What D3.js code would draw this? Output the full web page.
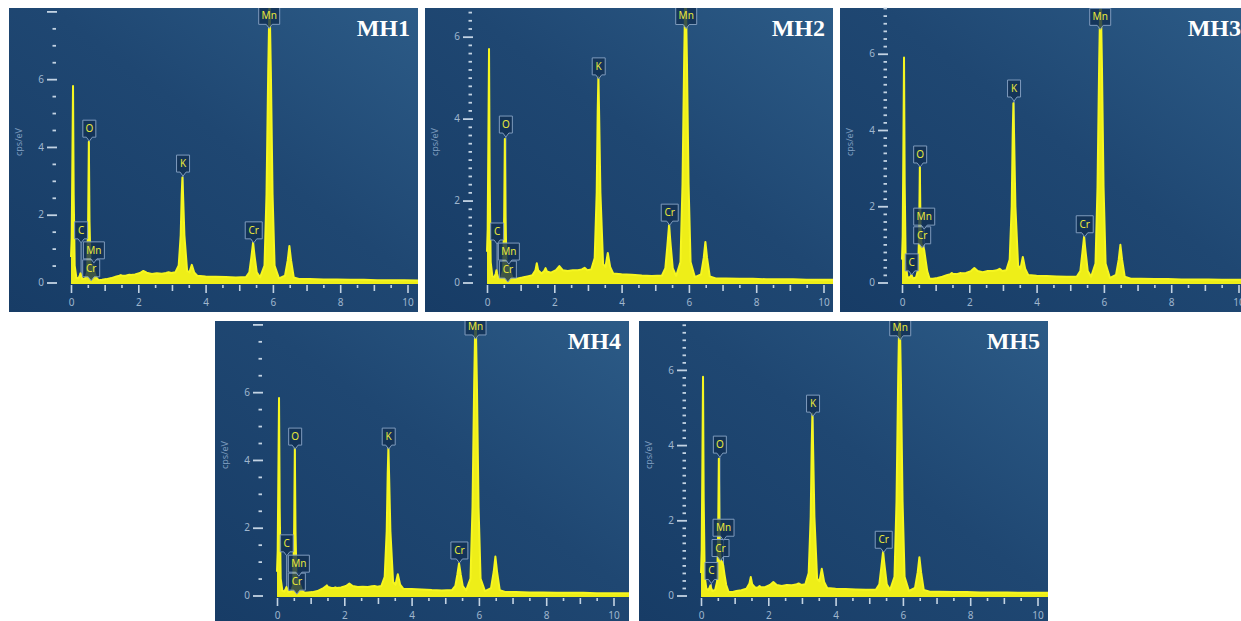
<!DOCTYPE html>
<html>
<head>
<meta charset="utf-8">
<script src="https://cdn.jsdelivr.net/npm/d3@7/dist/d3.min.js"></script>
<style>
  body { margin: 0; background: #ffffff; }
  svg { display: block; }
</style>
</head>
<body>
<script>
// energy grid (keV) shared by all five spectra
var energy = [
  0.00, 0.02, 0.04, 0.06, 0.08, 0.11, 0.16, 0.22, 0.26, 0.28,
  0.30, 0.34, 0.42, 0.48, 0.51, 0.53, 0.55, 0.58, 0.62, 0.66,
  0.70, 0.75, 0.82, 0.92, 1.05, 1.20, 1.35, 1.44, 1.48, 1.52,
  1.62, 1.70, 1.74, 1.78, 1.90, 2.05, 2.15, 2.25, 2.40, 2.55,
  2.70, 2.82, 2.90, 2.98, 3.10, 3.20, 3.26, 3.29, 3.31, 3.33,
  3.37, 3.45, 3.52, 3.59, 3.66, 3.75, 4.00, 4.30, 4.60, 4.90,
  5.20, 5.30, 5.36, 5.41, 5.46, 5.52, 5.62, 5.75, 5.81, 5.86,
  5.90, 5.94, 5.99, 6.05, 6.18, 6.36, 6.44, 6.49, 6.54, 6.62,
  6.80, 7.10, 7.50, 7.90, 8.30, 8.70, 9.10, 9.50, 9.90, 10.30,
  10.60
];

// cps/eV
var mh1 = [
  0.75, 1.3, 3.5, 5.8, 2.6, 0.5, 0.14, 0.12, 0.2, 0.27,
  0.2, 0.1, 0.12, 0.3, 1.9, 4.15, 1.8, 0.55, 0.5, 0.45,
  0.3, 0.15, 0.07, 0.08, 0.1, 0.13, 0.18, 0.2, 0.22, 0.2,
  0.2, 0.22, 0.23, 0.22, 0.24, 0.28, 0.34, 0.29, 0.25, 0.27,
  0.26, 0.28, 0.3, 0.28, 0.3, 0.5, 1.4, 2.6, 3.1, 2.6,
  1.4, 0.35, 0.3, 0.52, 0.3, 0.2, 0.18, 0.17, 0.16, 0.15,
  0.16, 0.3, 0.75, 1.17, 0.75, 0.3, 0.15, 0.5, 2.6, 6.2,
  8.4, 6.2, 2.6, 0.5, 0.12, 0.2, 0.65, 1.08, 0.65, 0.15,
  0.1, 0.1, 0.09, 0.09, 0.08, 0.08, 0.07, 0.07, 0.07, 0.06,
  0.06
];
var mh2 = [
  0.75, 1.3, 3.4, 5.7, 2.5, 0.5, 0.15, 0.13, 0.22, 0.3,
  0.22, 0.1, 0.12, 0.3, 1.6, 3.5, 1.6, 0.45, 0.42, 0.38,
  0.25, 0.13, 0.08, 0.1, 0.12, 0.15, 0.18, 0.3, 0.47, 0.3,
  0.22, 0.28, 0.35, 0.27, 0.24, 0.3, 0.4, 0.3, 0.28, 0.3,
  0.3, 0.32, 0.36, 0.3, 0.32, 0.6, 2.2, 4.2, 5.02, 4.2,
  2.2, 0.45, 0.38, 0.72, 0.38, 0.22, 0.2, 0.19, 0.17, 0.16,
  0.17, 0.35, 0.9, 1.4, 0.9, 0.35, 0.16, 0.5, 2.4, 5.5,
  7.4, 5.5, 2.4, 0.5, 0.13, 0.2, 0.6, 0.99, 0.6, 0.15,
  0.1, 0.1, 0.09, 0.09, 0.08, 0.08, 0.08, 0.07, 0.07, 0.07,
  0.07
];
var mh3 = [
  0.6, 1.2, 3.5, 5.9, 2.6, 0.5, 0.15, 0.12, 0.17, 0.2,
  0.16, 0.1, 0.14, 0.35, 1.4, 3.03, 1.5, 1.0, 0.95, 0.85,
  0.6, 0.3, 0.1, 0.1, 0.12, 0.15, 0.2, 0.22, 0.25, 0.22,
  0.22, 0.24, 0.25, 0.24, 0.25, 0.3, 0.38, 0.3, 0.27, 0.3,
  0.3, 0.32, 0.36, 0.3, 0.32, 0.6, 2.0, 3.9, 4.7, 3.9,
  2.0, 0.45, 0.36, 0.67, 0.36, 0.2, 0.18, 0.17, 0.16, 0.15,
  0.16, 0.3, 0.78, 1.2, 0.78, 0.3, 0.15, 0.5, 2.5, 5.8,
  7.8, 5.8, 2.5, 0.5, 0.12, 0.2, 0.6, 0.99, 0.6, 0.15,
  0.1, 0.1, 0.09, 0.09, 0.08, 0.08, 0.08, 0.07, 0.07, 0.07,
  0.07
];
var mh4 = [
  0.7, 1.3, 3.5, 5.83, 2.6, 0.5, 0.14, 0.12, 0.2, 0.25,
  0.2, 0.1, 0.12, 0.3, 2.0, 4.35, 1.9, 0.5, 0.45, 0.4,
  0.28, 0.14, 0.08, 0.09, 0.1, 0.13, 0.2, 0.26, 0.3, 0.25,
  0.22, 0.23, 0.24, 0.22, 0.24, 0.28, 0.35, 0.28, 0.25, 0.26,
  0.25, 0.27, 0.28, 0.26, 0.28, 0.55, 1.9, 3.6, 4.35, 3.6,
  1.9, 0.4, 0.32, 0.63, 0.32, 0.2, 0.19, 0.18, 0.16, 0.15,
  0.16, 0.28, 0.62, 0.95, 0.62, 0.28, 0.15, 0.5, 2.6, 6.3,
  8.5, 6.3, 2.6, 0.5, 0.13, 0.22, 0.7, 1.15, 0.7, 0.16,
  0.1, 0.1, 0.09, 0.09, 0.08, 0.08, 0.08, 0.07, 0.07, 0.07,
  0.07
];
var mh5 = [
  0.6, 1.2, 3.4, 5.82, 2.6, 0.5, 0.18, 0.15, 0.22, 0.27,
  0.2, 0.12, 0.15, 0.38, 1.7, 3.64, 1.6, 0.95, 0.9, 0.8,
  0.55, 0.28, 0.1, 0.09, 0.12, 0.14, 0.18, 0.32, 0.49, 0.3,
  0.2, 0.22, 0.25, 0.22, 0.22, 0.28, 0.36, 0.28, 0.25, 0.28,
  0.27, 0.29, 0.32, 0.28, 0.3, 0.6, 2.1, 4.0, 4.84, 4.0,
  2.1, 0.45, 0.38, 0.71, 0.36, 0.2, 0.18, 0.17, 0.16, 0.15,
  0.16, 0.3, 0.76, 1.16, 0.76, 0.3, 0.15, 0.5, 2.5, 5.8,
  7.8, 5.8, 2.5, 0.5, 0.12, 0.2, 0.62, 1.02, 0.62, 0.15,
  0.1, 0.1, 0.09, 0.09, 0.08, 0.08, 0.08, 0.07, 0.07, 0.07,
  0.07
];

var samples = ["MH1", "MH2", "MH3", "MH4", "MH5"];
var spectra = [mh1, mh2, mh3, mh4, mh5];

// y axis top (cps/eV) and minor tick step of each panel
var yMax = [8.1, 6.7, 7.2, 8.1, 7.3];
var yStep = [0.5, 0.2, 0.2, 0.5, 0.2];

// peak labels: element, keV, cps/eV where the marker points
var peaks1 = [["C", 0.30, 1.17], ["Cr", 0.60, 0.05], ["Mn", 0.68, 0.58], ["O", 0.545, 4.17],
              ["K", 3.33, 3.14], ["Cr", 5.43, 1.17], ["Mn", 5.89, 7.5]];
var peaks2 = [["C", 0.30, 0.94], ["Cr", 0.62, 0.01], ["Mn", 0.65, 0.45], ["O", 0.56, 3.55],
              ["K", 3.32, 4.97], ["Cr", 5.43, 1.4], ["Mn", 5.92, 6.2]];
var peaks3 = [["C", 0.29, 0.2], ["Cr", 0.60, 0.91], ["Mn", 0.66, 1.4], ["O", 0.54, 3.03],
              ["K", 3.33, 4.76], ["Cr", 5.43, 1.2], ["Mn", 5.89, 6.64]];
var peaks4 = [["C", 0.29, 1.17], ["Cr", 0.59, 0.04], ["Mn", 0.65, 0.57], ["O", 0.54, 4.32],
              ["K", 3.32, 4.32], ["Cr", 5.42, 0.96], ["Mn", 5.90, 7.57]];
var peaks5 = [["C", 0.31, 0.32], ["Cr", 0.58, 0.93], ["Mn", 0.67, 1.47], ["O", 0.56, 3.68],
              ["K", 3.33, 4.77], ["Cr", 5.43, 1.15], ["Mn", 5.92, 6.8]];
var peakSets = [peaks1, peaks2, peaks3, peaks4, peaks5];

var xTicks = d3.range(0, 10.01, 0.5);

// panel frames on the page: left, top, width, height
var frames = [[9, 8, 409, 304], [425, 8, 408, 304], [840, 8, 409, 304],
              [215, 321, 414, 300], [639, 321, 409, 300]];

var svg = d3.select("body").append("svg")
    .attr("width", 1241)
    .attr("height", 621);

var defs = svg.append("defs");
var bg = defs.append("linearGradient")
    .attr("id", "panelBg")
    .attr("x1", 0).attr("y1", 1).attr("x2", 1).attr("y2", 0);
bg.append("stop").attr("offset", "0%").attr("stop-color", "#173c66");
bg.append("stop").attr("offset", "55%").attr("stop-color", "#1f4772");
bg.append("stop").attr("offset", "100%").attr("stop-color", "#2c5b87");

var tickColor = "#c3d3e3";
var labelColor = "#9fb6ce";
var specColor = "#eeee18";

samples.forEach(function (name, i) {
    var f = frames[i];
    var g = svg.append("g").attr("transform", "translate(" + f[0] + "," + f[1] + ")");

    defs.append("clipPath").attr("id", "clip" + i)
        .append("rect").attr("width", f[2]).attr("height", f[3]);

    g.append("rect")
        .attr("width", f[2])
        .attr("height", f[3])
        .attr("fill", "url(#panelBg)");

    var x = d3.scaleLinear().domain([0, 10]).range([62, 398.5]);
    var y = d3.scaleLinear().domain([0, yMax[i]]).range([274.5, 0]);

    var plot = g.append("g").attr("clip-path", "url(#clip" + i + ")");
    var pts = energy.map(function (e, k) { return [e, spectra[i][k]]; });

    // marker stems sit behind the spectrum
    plot.selectAll(".stem")
        .data(peakSets[i])
        .enter().append("line")
        .attr("x1", function (d) { return x(d[1]); })
        .attr("x2", function (d) { return x(d[1]); })
        .attr("y1", function (d) { return y(d[2]); })
        .attr("y2", y(0))
        .attr("stroke", "#8ea7c2")
        .attr("stroke-width", 1);

    plot.append("path")
        .datum(pts)
        .attr("d", d3.area()
            .x(function (d) { return x(d[0]); })
            .y0(y(0) + 1.5)
            .y1(function (d) { return y(d[1]); }))
        .attr("fill", specColor);

    plot.append("path")
        .datum(pts)
        .attr("d", d3.line()
            .x(function (d) { return x(d[0]); })
            .y(function (d) { return y(d[1]); }))
        .attr("fill", "none")
        .attr("stroke", "#f6f620")
        .attr("stroke-width", 2)
        .attr("stroke-linejoin", "round");

    // peak labels
    var lab = plot.selectAll(".peak")
        .data(peakSets[i])
        .enter().append("g")
        .attr("transform", function (d) { return "translate(" + x(d[1]) + "," + y(d[2]) + ")"; });

    lab.each(function (d) {
        var node = d3.select(this);
        var w = d[0].length > 1 ? (d[0] === "Mn" ? 21 : 17) : 13;
        var h = 17;
        node.append("path")
            .attr("d", "M" + (-w / 2) + "," + (-4 - h) + "h" + w + "v" + h +
                "h" + (-(w / 2 - 3)) + "l-3,4l-3,-4h" + (-(w / 2 - 3)) + "z")
            .attr("fill", "#112f52")
            .attr("fill-opacity", 0.8)
            .attr("stroke", "#7f9bbd")
            .attr("stroke-width", 1);
        node.append("text")
            .attr("y", -4 - h / 2)
            .attr("dy", "0.35em")
            .attr("text-anchor", "middle")
            .attr("font-family", "'Noto Sans', 'DejaVu Sans', sans-serif")
            .attr("font-size", 10)
            .attr("fill", "#e8e83c")
            .text(d[0]);
    });

    // x axis
    var xa = g.append("g")
        .attr("transform", "translate(0," + (y(0) + 2.5) + ")")
        .call(d3.axisBottom(x)
            .tickValues(xTicks)
            .tickSize(8)
            .tickFormat(function (v) { return v % 2 === 0 ? v : ""; }));
    xa.select(".domain").remove();
    xa.selectAll(".tick line")
        .attr("stroke", tickColor)
        .attr("stroke-width", 1.6)
        .attr("y2", function (v) { return v % 2 === 0 ? 8 : (v % 1 === 0 ? 6 : 3); });
    xa.selectAll(".tick text")
        .attr("y", 14)
        .attr("fill", labelColor)
        .attr("font-family", "'Noto Sans', sans-serif")
        .attr("font-size", 10);

    // y axis
    var yTicks = d3.range(0, yMax[i] + 0.001, yStep[i]).map(function (v) { return Math.round(v * 10) / 10; });
    var ya = g.append("g")
        .attr("transform", "translate(" + (x(0) - 14) + ",0)")
        .call(d3.axisLeft(y)
            .tickValues(yTicks)
            .tickSize(10)
            .tickFormat(function (v) { return (v % 2 === 0 && v < 8) ? v : ""; }));
    ya.select(".domain").remove();
    ya.selectAll(".tick line")
        .attr("stroke", tickColor)
        .attr("stroke-width", 1.8)
        .attr("x1", function (v) { return v % 2 === 0 ? 0 : -1; })
        .attr("x2", function (v) { return v % 2 === 0 ? -10 : -4.5; });
    ya.selectAll(".tick text")
        .attr("x", -13)
        .attr("fill", labelColor)
        .attr("font-family", "'Noto Sans', sans-serif")
        .attr("font-size", 10);

    g.append("text")
        .attr("transform", "translate(13,134) rotate(-90)")
        .attr("text-anchor", "middle")
        .attr("font-family", "'Noto Sans', sans-serif")
        .attr("font-size", 9)
        .attr("fill", "#7d9cbf")
        .text("cps/eV");

    g.append("text")
        .attr("x", f[2] - 8)
        .attr("y", 28)
        .attr("text-anchor", "end")
        .attr("font-family", "'Liberation Serif', 'Times New Roman', serif")
        .attr("font-weight", "bold")
        .attr("font-size", 24)
        .attr("fill", "#ffffff")
        .text(name);
});
</script>
</body>
</html>
